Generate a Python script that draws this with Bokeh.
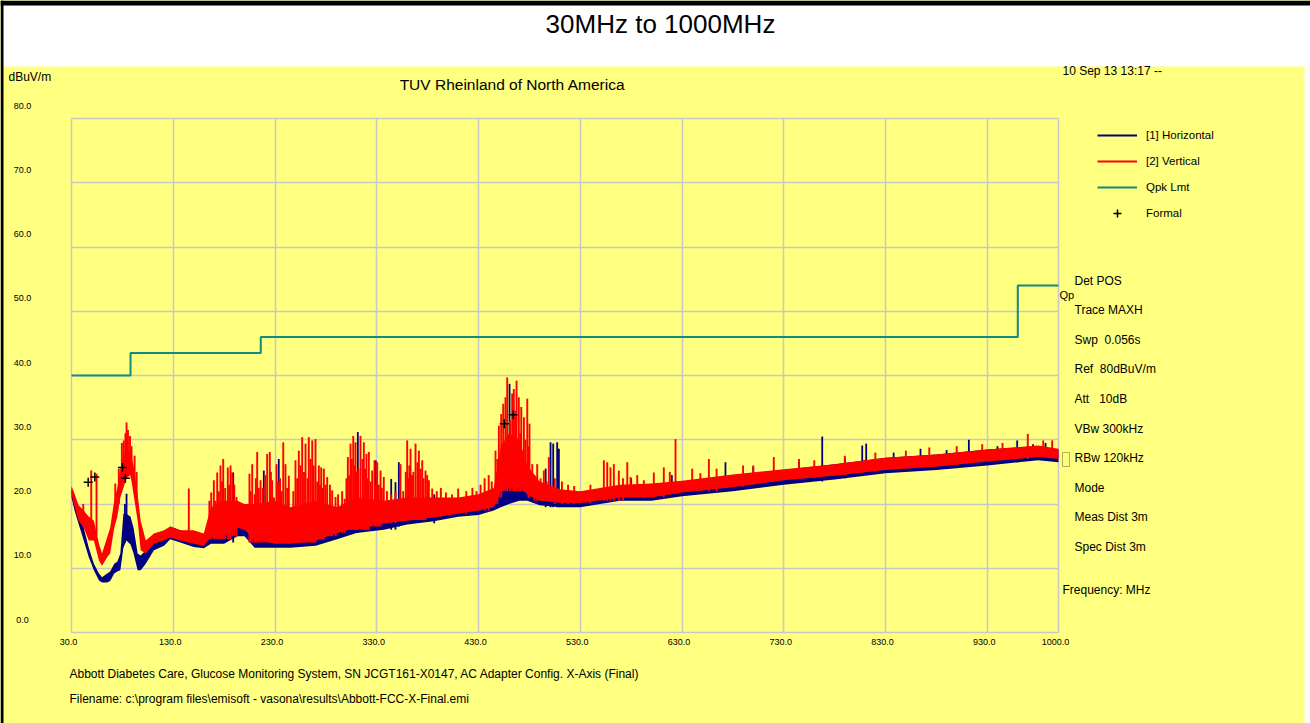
from bokeh.plotting import figure
from bokeh.models import Label, BoxAnnotation, FixedTicker, Legend, LegendItem, Grid
from bokeh.embed import file_html
from bokeh.resources import INLINE

# ---------------- data ----------------
x_ticks = [30, 130, 230, 330, 430, 530, 630, 730, 830, 930, 1000]
x_tick_labels = ["30.0", "130.0", "230.0", "330.0", "430.0", "530.0", "630.0", "730.0", "830.0", "930.0", "1000.0"]
y_ticks = [0, 10, 20, 30, 40, 50, 60, 70, 80]
y_tick_labels = ["0.0", "10.0", "20.0", "30.0", "40.0", "50.0", "60.0", "70.0", "80.0"]

# envelope of the dense noise band of each trace (MHz, dBuV/m)
env_f = [30, 33, 37, 42, 47, 52, 57, 60, 65, 68, 72, 75, 78, 81, 84, 88, 91, 95, 98, 103,
         111, 121, 127, 137, 150, 160, 167, 180, 193, 200, 210, 230, 245, 270, 291, 310, 337,
         360, 386, 410, 430, 445, 452, 460, 470, 478, 490, 510, 530, 569, 600, 630, 680, 730,
         780, 830, 880, 930, 980, 1000]
red_lo = [21.5, 19.5, 17.4, 16.3, 14.3, 14.3, 11.2, 10.4, 11.7, 12.3, 16.3, 18.0, 21.0, 22.5, 24.0, 24.5, 21.5, 17.4, 12.8, 12.3,
          13.8, 14.3, 14.8, 14.3, 13.8, 13.5, 14.8, 15.0, 16.3, 16.0, 14.5, 13.8, 13.8, 14.3, 15.5, 16.3, 17.0,
          17.4, 17.9, 18.5, 19.0, 19.5, 22.0, 22.5, 22.5, 21.5, 20.5, 20.2, 20.1, 21.0, 21.0, 21.8, 22.6, 23.7,
          24.4, 25.3, 25.8, 26.6, 27.3, 27.0]
red_hi = [22.8, 21.6, 19.8, 19.0, 18.0, 17.4, 13.8, 12.3, 14.8, 16.3, 20.5, 22.5, 25.5, 27.5, 28.5, 28.0, 26.0, 21.5, 17.4, 14.3,
          15.4, 15.9, 16.5, 15.9, 15.9, 15.4, 19.5, 20.5, 20.5, 20.0, 20.0, 20.5, 19.5, 20.5, 19.5, 21.0, 20.5,
          21.0, 21.0, 21.0, 21.5, 22.5, 29.0, 31.0, 30.0, 26.0, 23.5, 22.3, 22.0, 23.0, 23.2, 23.6, 24.6, 25.4,
          26.2, 27.2, 27.7, 28.5, 29.1, 28.6]
blue_lo = [21.0, 19.0, 16.9, 14.3, 11.7, 9.7, 8.1, 7.8, 7.8, 8.0, 9.2, 9.5, 9.7, 13.2, 14.3, 13.7, 12.3, 9.7, 9.7, 10.7,
           12.8, 13.5, 14.5, 14.0, 13.3, 13.1, 13.8, 13.8, 15.0, 15.0, 13.2, 13.2, 13.2, 13.5, 14.5, 15.5, 16.0,
           16.8, 17.3, 18.0, 18.3, 19.0, 19.5, 20.0, 20.5, 20.5, 19.8, 19.5, 19.5, 20.5, 20.5, 21.2, 22.0, 23.0,
           23.8, 24.8, 25.3, 26.0, 26.8, 26.5]
blue_hi = [22.5, 21.0, 17.9, 16.3, 13.2, 10.7, 9.2, 8.6, 9.2, 9.5, 10.7, 11.0, 12.3, 18.5, 18.5, 18.0, 16.3, 12.3, 12.0, 12.8,
           14.8, 15.5, 16.5, 15.9, 15.5, 14.8, 15.5, 15.5, 17.0, 16.5, 15.0, 15.0, 15.0, 15.5, 16.5, 17.0, 17.5,
           18.5, 19.0, 19.5, 20.0, 20.5, 22.5, 24.0, 24.0, 23.0, 22.0, 21.5, 21.0, 22.8, 22.8, 23.2, 24.5, 25.3,
           26.2, 27.2, 27.7, 28.5, 29.0, 28.5]

# narrow emission spikes rising out of the band: frequency, foot, peak
red_spike_f = [41.5, 49.4, 54.6, 73.0, 76.5, 79.5, 81.4, 83.0, 84.1, 85.5, 87.5, 89.0, 92.0, 94.0, 145.3,
               165.5, 167.3, 169.9, 171.5, 173.2, 174.8, 176.4, 178.0, 179.1, 181.0, 183.6, 185.0, 186.3, 188.0, 190.0, 192.2,
               204.9, 206.0, 207.6, 210.0, 211.2, 212.5, 214.0, 215.8, 218.0, 220.5, 222.3, 224.9, 226.0, 227.2, 229.0, 231.5, 233.0,
               235.0, 236.5, 238.1, 240.3, 242.0, 243.6,
               248.0, 250.1, 251.8, 253.4, 255.0, 256.7, 258.5, 260.0, 262.0, 263.2, 265.0, 266.6, 268.0, 269.8, 271.5, 273.1, 274.2,
               275.4, 277.0, 278.0, 279.6, 281.3, 284.0, 286.2, 289.5,
               292.0, 296.0, 298.5, 300.2, 301.6, 303.0, 304.2, 305.5, 306.9, 308.0, 309.1, 310.5, 312.0, 314.0, 316.0, 317.3, 318.6,
               319.9, 321.0, 322.2, 324.0, 325.5, 327.8, 329.0, 330.4, 332.0, 333.7, 335.0, 336.9,
               340.0, 344.2, 348.4, 353.3, 356.0, 358.5, 359.9, 361.0, 362.0, 363.2, 364.6, 366.0, 368.1, 370.0, 371.4, 373.0, 374.7,
               376.0, 377.9, 379.5, 381.2, 384.5,
               389.0, 393.0, 398.0, 404.0, 410.0, 418.0, 424.0, 428.0, 432.0, 436.0, 440.0, 443.0,
               446.7, 448.5, 450.0, 452.3, 454.3, 456.5, 458.2, 461.0, 463.1, 464.7, 466.0, 467.4, 469.6, 471.0, 472.0, 474.6, 476.0,
               477.9, 479.0, 480.1, 482.8,
               485.0, 487.7, 491.0, 494.2, 497.0, 499.1, 505.0, 512.0, 518.0, 524.0,
               540.0, 553.2, 556.5, 559.7, 563.0, 567.9, 572.0, 576.2, 579.4, 586.0, 592.5,
               602.3, 612.1, 618.0, 623.6, 640.0, 648.0, 656.4, 664.0, 690.0, 700.0, 720.2, 745.0, 760.0, 790.0,
               820.0, 850.0, 873.0, 900.0, 925.0, 945.0, 969.8, 985.0, 993.8]
red_spike_foot = [17.0, 15.0, 15.0, 18.0, 20.0, 23.0, 24.0, 24.0, 27.0, 25.0, 25.0, 24.0, 22.0, 20.0, 14.0,
                  14.5, 14.5, 14.5, 14.5, 14.5, 14.5, 14.5, 14.5, 14.5, 14.5, 14.5, 14.5, 14.5, 15.0, 15.0, 15.0,
                  14.0, 14.0, 14.0, 14.0, 14.0, 14.0, 14.0, 14.0, 14.0, 14.0, 14.0, 14.0, 14.0, 14.0, 14.0, 14.0, 14.0,
                  14.0, 14.0, 14.0, 14.0, 14.0, 14.0,
                  14.0, 14.0, 14.0, 14.0, 14.0, 14.0, 14.0, 14.0, 14.0, 14.0, 14.0, 14.0, 14.0, 14.0, 14.5, 14.5, 14.5,
                  14.5, 14.5, 14.5, 15.0, 15.0, 15.0, 15.0, 15.0,
                  15.5, 15.5, 15.5, 16.0, 16.0, 16.0, 16.0, 16.0, 16.0, 16.0, 16.0, 16.0, 16.0, 16.0, 16.0, 16.0, 16.0,
                  16.0, 16.0, 16.0, 16.5, 16.5, 16.5, 16.5, 16.5, 16.5, 16.5, 17.0, 17.0,
                  17.0, 17.0, 17.0, 17.4, 17.4, 17.5, 17.5, 17.5, 17.5, 17.5, 17.5, 17.5, 17.5, 17.5, 17.5, 17.5, 17.5,
                  17.5, 17.5, 17.9, 17.9, 17.9,
                  18.0, 18.0, 18.5, 18.5, 18.5, 18.5, 19.0, 19.0, 19.0, 19.0, 19.0, 19.5,
                  20.0, 20.0, 21.0, 21.0, 22.0, 22.0, 22.0, 22.0, 22.0, 22.0, 22.0, 22.0, 22.0, 22.0, 22.0, 22.0, 22.0,
                  22.0, 21.0, 21.0, 21.0,
                  20.5, 20.5, 20.5, 20.5, 20.5, 20.5, 20.0, 20.0, 20.0, 20.0,
                  20.1, 20.5, 20.5, 20.5, 20.5, 20.5, 20.5, 21.0, 21.0, 21.0, 21.0,
                  21.0, 21.0, 21.5, 21.5, 22.0, 22.0, 22.0, 22.0, 22.7, 23.0, 23.5, 24.0, 24.0, 24.5,
                  25.0, 25.5, 25.8, 26.0, 26.5, 27.0, 27.0, 27.5, 27.5]
red_spike_peak = [20.0, 25.2, 24.7, 23.2, 25.5, 29.5, 29.9, 31.0, 32.7, 31.5, 30.6, 29.0, 27.5, 25.0, 22.4,
                  20.5, 21.8, 23.7, 20.5, 24.9, 22.0, 26.0, 23.5, 27.0, 22.5, 25.7, 23.0, 26.0, 24.9, 23.0, 21.1,
                  24.7, 22.0, 26.2, 21.5, 24.0, 28.1, 22.5, 23.7, 22.5, 24.5, 27.8, 28.1, 25.0, 23.7, 21.0, 26.2, 23.5,
                  24.0, 22.0, 29.6, 26.2, 22.5, 24.4,
                  22.0, 26.8, 24.0, 28.3, 26.0, 30.4, 25.0, 29.4, 24.0, 30.4, 27.0, 29.9, 26.0, 30.1, 23.5, 26.0, 23.0,
                  25.7, 22.5, 25.5, 23.0, 24.2, 23.0, 22.1, 21.1,
                  21.5, 22.0, 20.8, 24.0, 27.3, 24.5, 29.4, 27.0, 30.6, 26.0, 29.6, 25.0, 25.5, 30.6, 27.0, 29.6, 25.5,
                  27.8, 24.0, 28.1, 23.5, 25.2, 26.8, 23.0, 26.5, 23.0, 25.2, 22.5, 24.2,
                  22.0, 21.5, 22.0, 26.2, 22.0, 25.0, 29.9, 24.0, 26.0, 28.6, 24.5, 25.0, 29.4, 26.5, 28.3, 25.5, 26.8,
                  24.0, 25.2, 24.5, 23.7, 22.4,
                  22.0, 22.5, 21.8, 21.5, 22.4, 22.0, 22.5, 22.0, 23.0, 24.0, 24.5, 23.5,
                  28.3, 27.0, 32.2, 34.0, 35.6, 36.6, 39.7, 33.0, 37.2, 37.9, 34.5, 39.2, 36.6, 31.0, 35.1, 33.5, 30.0,
                  36.4, 29.0, 32.5, 26.2,
                  24.5, 26.2, 24.0, 25.2, 23.5, 27.3, 24.0, 23.5, 23.0, 22.8,
                  23.0, 26.8, 26.5, 25.7, 26.2, 25.2, 24.0, 26.5, 24.2, 24.5, 23.7,
                  24.9, 25.7, 25.0, 30.1, 25.5, 24.8, 27.0, 25.5, 26.0, 26.0, 27.3, 27.0, 26.8, 27.5,
                  28.0, 28.3, 28.8, 29.0, 29.3, 29.5, 30.9, 29.9, 29.9]

blue_spike_f = [82.5, 84.1, 188.9, 219.0, 233.7, 311.4, 329.0, 344.2, 348.4, 351.7, 386.5,
                460.5, 496.0, 500.8, 503.4, 507.3, 509.0,
                580.0, 620.0, 672.7, 700.0, 745.0, 767.8, 790.0, 807.1, 811.0, 838.0, 864.4, 890.0, 911.9,
                940.0, 959.4, 975.0, 987.3]
blue_spike_foot = [14.0, 15.0, 14.0, 13.5, 13.5, 15.5, 16.0, 16.0, 16.0, 16.5, 17.0,
                   21.0, 19.5, 19.5, 19.5, 19.5, 19.5,
                   21.0, 21.5, 22.0, 22.5, 23.5, 23.5, 24.0, 24.5, 24.5, 25.0, 25.5, 25.5, 26.0,
                   26.5, 26.5, 27.0, 27.0]
blue_spike_peak = [20.0, 21.6, 24.9, 25.2, 27.0, 31.2, 26.8, 23.9, 23.4, 26.5, 21.5,
                   38.7, 25.5, 29.6, 29.4, 29.6, 28.6,
                   24.0, 24.5, 26.5, 25.8, 26.5, 30.5, 27.2, 29.1, 29.4, 28.0, 28.6, 28.4, 30.0,
                   29.0, 29.9, 29.3, 29.5]

# FCC class B quasi-peak limit at 3 m
limit_f = [30, 88, 216, 960, 1000]
limit_v = [40.0, 43.5, 46.0, 54.0, 54.0]

# formal (final) measurement points
formal_f = [46.4, 52.9, 80.1, 83.0, 455.3, 464.1]
formal_v = [23.4, 24.2, 25.7, 24.0, 32.5, 33.9]

NB = "\u00a0"
settings = ["Det POS", "Trace MAXH", "Swp " + NB + "0.056s", "Ref " + NB + "80dBuV/m", "Att " + NB + NB + "10dB",
            "VBw 300kHz", "RBw 120kHz", "Mode", "Meas Dist 3m", "Spec Dist 3m"]

# ---------------- styling ----------------
W, H = 1310, 723
FL, FR, FT, FB = 71, 1058, 118, 632          # plot area (pixels)
X0, X1, Y0, Y1 = 30.0, 1000.0, 0.0, 80.0     # data extent of the plot area
kx = (FR - FL) / (X1 - X0)
ky = (FB - FT) / (Y1 - Y0)
YEL = "#FFFF80"
GRID = "#C8C8C8"
NAVY = "#000080"
RED = "#FF0000"
TEAL = "#0E8C7E"
F = "Liberation Sans"

# the frame spans the whole canvas so that the texts around the plot area are not clipped
p = figure(width=W, height=H,
           x_range=(X0 - FL / kx, X1 + (W - FR) / kx),
           y_range=(Y0 - (H - FB) / ky, Y1 + FT / ky),
           output_backend="svg", toolbar_location=None, x_axis_type=None, y_axis_type=None,
           min_border=0, background_fill_color=YEL, border_fill_color=YEL, outline_line_color=None)

if "cross_bounds" in Grid.properties():
    p.add_layout(Grid(dimension=0, ticker=FixedTicker(ticks=x_ticks), cross_bounds=(Y0, Y1),
                      grid_line_color=GRID, grid_line_width=1.5))
    p.add_layout(Grid(dimension=1, ticker=FixedTicker(ticks=y_ticks), cross_bounds=(X0, X1),
                      grid_line_color=GRID, grid_line_width=1.5))
else:
    p.segment(x0=x_ticks, y0=[Y0] * len(x_ticks), x1=x_ticks, y1=[Y1] * len(x_ticks),
              line_color=GRID, line_width=1.5)
    p.segment(x0=[X0] * len(y_ticks), y0=y_ticks, x1=[X1] * len(y_ticks), y1=y_ticks,
              line_color=GRID, line_width=1.5)

# traces
p.varea(x=env_f, y1=blue_lo, y2=blue_hi, fill_color=NAVY)
blue_seg = p.segment(x0=blue_spike_f, y0=blue_spike_foot, x1=blue_spike_f, y1=blue_spike_peak,
                     line_color=NAVY, line_width=1.8)
p.varea(x=env_f, y1=red_lo, y2=red_hi, fill_color=RED)
red_seg = p.segment(x0=red_spike_f, y0=red_spike_foot, x1=red_spike_f, y1=red_spike_peak,
                    line_color=RED, line_width=1.9)
lim = p.step(x=limit_f, y=limit_v, mode="after", line_color=TEAL, line_width=2)
formal = p.scatter(x=formal_f, y=formal_v, marker="cross", size=9, line_color="black", line_width=1.5)


# page decorations
def box(l, r, t, b, fill, line=None):
    p.add_layout(BoxAnnotation(left=l, right=r, top=t, bottom=b, left_units="canvas", right_units="canvas",
                               top_units="canvas", bottom_units="canvas", fill_color=fill,
                               fill_alpha=1 if fill else 0, line_color=line, line_width=1))


box(3, W, 5, 66, "white")
box(1304, W, 66, H, "white")
box(0, W, 0, 5, "black")
box(0, 3, 0, H, "black")
box(1062, 1069, 452, 466, None, "black")


def txt(x, y, s, size, align="left"):
    p.add_layout(Label(x=x, y=y, x_units="canvas", y_units="canvas", text=s, text_font=F,
                       text_font_size=f"{size}px", text_align=align, text_baseline="middle",
                       text_color="black"))


txt(660, 23, "30MHz to 1000MHz", 26, "center")
txt(8, 76, "dBuV/m", 12)
txt(512, 84, "TUV Rheinland of North America", 15.5, "center")
txt(1062, 70, "10 Sep 13 13:17 --", 12)
for i, s in enumerate(settings):
    txt(1074, 280 + i * 29.6, s, 12)
txt(1059, 294, "Qp", 11)
txt(1062, 589, "Frequency: MHz", 12)
txt(69, 673, "Abbott Diabetes Care, Glucose Monitoring System, SN JCGT161-X0147, AC Adapter Config. X-Axis (Final)", 12)
txt(69, 698, "Filename: c:\\program files\\emisoft - vasona\\results\\Abbott-FCC-X-Final.emi", 12)

for v, s in zip(y_ticks, y_tick_labels):
    p.add_layout(Label(x=22, y=v, x_units="canvas", y_units="data", y_offset=13, text=s, text_font=F,
                       text_font_size="9px", text_align="center", text_baseline="middle",
                       text_color="black"))
for t, s in zip(x_ticks, x_tick_labels):
    p.add_layout(Label(x=t, y=641, x_units="data", y_units="canvas", x_offset=-3, text=s, text_font=F,
                       text_font_size="9px", text_align="center", text_baseline="middle",
                       text_color="black"))

legend = Legend(items=[LegendItem(label="[1] Horizontal", renderers=[blue_seg]),
                       LegendItem(label="[2] Vertical", renderers=[red_seg]),
                       LegendItem(label="Qpk Lmt", renderers=[lim]),
                       LegendItem(label="Formal", renderers=[formal])],
                location=(1097, H - 223), orientation="vertical",
                glyph_width=40, glyph_height=20, label_height=20, spacing=6, padding=0, margin=0,
                label_standoff=9, border_line_color=None, background_fill_alpha=0,
                label_text_font=F, label_text_font_size="11.5px", label_text_color="black")
p.add_layout(legend)

open("out.html", "w").write(file_html(p, INLINE))
